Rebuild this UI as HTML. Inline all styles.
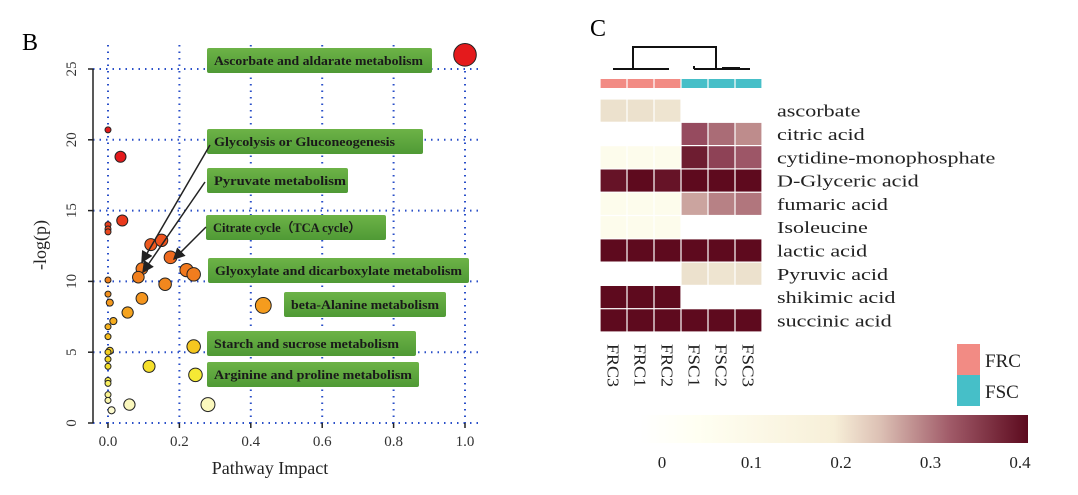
<!DOCTYPE html>
<html><head><meta charset="utf-8"><style>
body{margin:0;background:#fff;width:1078px;height:495px;overflow:hidden}
svg{display:block;font-family:"Liberation Serif",serif}
</style></head><body>
<svg id="s" width="1078" height="495" viewBox="0 0 1078 495">
<defs>
<linearGradient id="gb" x1="0" y1="0" x2="0" y2="1"><stop offset="0" stop-color="#6db347"/><stop offset="1" stop-color="#4f9a35"/></linearGradient>
<linearGradient id="cb" x1="0" y1="0" x2="1" y2="0">
<stop offset="0" stop-color="#ffffff"/><stop offset="0.15" stop-color="#fffff2"/><stop offset="0.5" stop-color="#f7efd8"/><stop offset="0.62" stop-color="#dcc0b4"/><stop offset="0.8" stop-color="#a05a68"/><stop offset="1" stop-color="#5c0a1e"/></linearGradient>
<marker id="ah" markerWidth="8" markerHeight="8" refX="7" refY="4" orient="auto"><path d="M0,0 L8,4 L0,8 Z" fill="#222"/></marker>
</defs>
<text x="22" y="50" font-size="24">B</text>
<text x="590" y="36" font-size="24">C</text>
<g id="left"></g><g id="right"></g>
</svg>
<script>
const NS='http://www.w3.org/2000/svg';
function mk(p,t,a,txt){const e=document.createElementNS(NS,t);for(const k in a)e.setAttribute(k,a[k]);if(txt!==undefined)e.textContent=txt;p.appendChild(e);return e;}
// ---- Scatter data ----
const impact=[1.0,0,0.035,0.04,0,0,0,0.12,0.15,0.175,0.095,0.085,0.22,0.24,0.16,0,0.095,0,0.005,0.435,0.055,0.015,0,0,0.24,0.005,0,0,0,0.115,0.245,0,0,0,0,0.06,0.28,0.01];
const logp=[26,20.7,18.8,14.3,14,13.7,13.5,12.6,12.9,11.7,10.9,10.3,10.8,10.5,9.8,10.1,8.8,9.1,8.5,8.3,7.8,7.2,6.8,6.1,5.4,5.1,5.0,4.5,4.0,4.0,3.4,3.0,2.8,2.0,1.6,1.3,1.3,0.9];
const xTicks=[0,0.2,0.4,0.6,0.8,1.0];
const xTickLabels=["0.0","0.2","0.4","0.6","0.8","1.0"];
const yTicks=[0,5,10,15,20,25];
const X=v=>108+v*357, Y=v=>423-v*14.16;
const L=document.getElementById('left');
function colorFor(p){const t=Math.min(1,p/16);
 const stops=[[1,[255,255,248]],[0.9,[250,246,175]],[0.78,[245,232,45]],[0.65,[245,195,30]],[0.5,[245,160,30]],[0.3,[240,115,30]],[0.15,[235,70,30]],[0,[228,26,28]]];
 const u=1-t;for(let i=0;i<stops.length-1;i++){const a=stops[i],b=stops[i+1];if(u<=a[0]&&u>=b[0]){const f=(a[0]-u)/(a[0]-b[0]);return 'rgb('+a[1].map((c,j)=>Math.round(c+(b[1][j]-c)*f)).join(',')+')';}}return 'rgb(228,26,28)';}
function rFor(x){return x<0.003?3:3.5+x*6+(x>0.02?1.8:0);}
xTicks.forEach((t,i)=>{const l=mk(L,'line',{x1:X(t),x2:X(t),y1:45,y2:423,stroke:'#2a4fc8','stroke-width':2,'stroke-dasharray':'1.5,5'});

const tk=mk(L,'text',{x:X(t),y:446,'font-size':15,'text-anchor':'middle',fill:'#333'},xTickLabels[i]);
});
yTicks.forEach(t=>{const l=mk(L,'line',{x1:93,x2:482,y1:Y(t),y2:Y(t),stroke:'#2a4fc8','stroke-width':2,'stroke-dasharray':'1.5,5'});

mk(L,'line',{x1:88,x2:93,y1:Y(t),y2:Y(t),stroke:'#222','stroke-width':1.5});
const tk=mk(L,'text',{x:0,y:0,'font-size':15,'text-anchor':'middle',fill:'#333',transform:`translate(76,${Y(t)}) rotate(-90)`},String(t));
});
const ax=mk(L,'line',{x1:93,x2:93,y1:Y(25),y2:Y(0),stroke:'#222','stroke-width':1.5});

xTicks.forEach(t=>mk(L,'line',{x1:X(t),x2:X(t),y1:423,y2:428,stroke:'#222','stroke-width':1.5}));
const yt=mk(L,'text',{x:0,y:0,'font-size':18,'text-anchor':'middle',fill:'#222',transform:'translate(46,245) rotate(-90)'},'-log(p)');

const xt=mk(L,'text',{x:270,y:474,'font-size':18,'text-anchor':'middle',fill:'#222'},'Pathway Impact');

// labels
const labX=[207,207,207,206,208,284,207,207],labY=[48,129,168,215,258,292,331,362],labW=[225,216,141,180,261,162,209,212];
const labT=["Ascorbate and aldarate metabolism","Glycolysis or Gluconeogenesis","Pyruvate metabolism","Citrate cycle（TCA cycle）","Glyoxylate and dicarboxylate metabolism","beta-Alanine metabolism","Starch and sucrose metabolism","Arginine and proline metabolism"];
const labTL=[209,181,132,148,247,148,185,198];
labT.forEach((t,i)=>{const r=mk(L,'rect',{x:labX[i],y:labY[i],width:labW[i],height:25,rx:2,fill:'url(#gb)'});

const tx=mk(L,'text',{x:labX[i]+7,y:labY[i]+17,'font-size':12.5,'font-weight':'bold',fill:'#1a1a1a',textLength:labTL[i],lengthAdjust:'spacingAndGlyphs'},t);
});
// points
impact.forEach((v,i)=>{const c=mk(L,'circle',{cx:X(v),cy:Y(logp[i]),r:rFor(v),fill:colorFor(logp[i]),stroke:'#222','stroke-width':1});
});
[[210,145,142,262],[205,182,143,272],[206,227,174,259]].forEach(a=>{const l=mk(L,'line',{x1:a[0],y1:a[1],x2:a[2],y2:a[3],stroke:'#222','stroke-width':1.5,'marker-end':'url(#ah)'});
});
// ---- Heatmap ----
const samples=["FRC3","FRC1","FRC2","FSC1","FSC2","FSC3"];
const groups=["FRC","FRC","FRC","FSC","FSC","FSC"];
const metabolites=["ascorbate","citric acid","cytidine-monophosphate","D-Glyceric acid","fumaric acid","Isoleucine","lactic acid","Pyruvic acid","shikimic acid","succinic acid"];
const values=[[0.2,0.2,0.19,null,null,null],[null,null,null,0.33,0.3,0.27],[0.1,0.1,0.1,0.38,0.34,0.32],[0.39,0.4,0.39,0.4,0.4,0.4],[0.1,0.1,0.1,0.25,0.28,0.29],[0.1,0.1,0.1,null,null,null],[0.4,0.4,0.4,0.4,0.4,0.4],[null,null,null,0.2,0.19,0.2],[0.4,0.4,0.4,null,null,null],[0.4,0.4,0.4,0.4,0.4,0.4]];
const cbTicks=[0,0.1,0.2,0.3,0.4];
const R=document.getElementById('right');
const HX=600,HY=99,CW=27,RH=23.3;
const CX=j=>HX+j*CW, RY=i=>HY+i*RH;
function heat(v){const s=[[0,[255,255,248]],[0.1,[253,252,236]],[0.2,[236,225,205]],[0.27,[190,140,140]],[0.33,[150,75,95]],[0.4,[94,10,30]]];
for(let i=0;i<s.length-1;i++){if(v<=s[i+1][0]){const f=(v-s[i][0])/(s[i+1][0]-s[i][0]);return 'rgb('+s[i][1].map((c,j)=>Math.round(c+(s[i+1][1][j]-c)*f)).join(',')+')';}}return 'rgb(94,10,30)';}
const gcol={FRC:'#f28b84',FSC:'#46bfc8'};
samples.forEach((s,j)=>{const a=mk(R,'rect',{x:CX(j)+0.6,y:79,width:CW-1.2,height:9,fill:gcol[groups[j]]});

const t=mk(R,'text',{x:0,y:0,'font-size':17,fill:'#222',textLength:43,lengthAdjust:'spacingAndGlyphs',transform:`translate(${CX(j)+CW/2-6},344) rotate(90)`},s);
});
metabolites.forEach((m,i)=>{values[i].forEach((v,j)=>{if(v===null)return;const r=mk(R,'rect',{x:CX(j)+0.6,y:RY(i)+0.6,width:CW-1.2,height:RH-1.2,fill:heat(v)});
});
const t=mk(R,'text',{x:0,y:0,'font-size':17,fill:'#222',transform:`translate(777,${RY(i)+RH/2+6}) scale(1.3,1)`},m);
});
// dendrogram
const dg=mk(R,'path',{d:'M613,69 H669 M633,69 V47 H716 V69 M694,69 H750 M694,69 V66 M722,68 H740',fill:'none',stroke:'#111','stroke-width':2});

// legend
[['FRC',344],['FSC',375]].forEach(g=>{const r=mk(R,'rect',{x:957,y:g[1],width:23,height:31,fill:gcol[g[0]]});

const t=mk(R,'text',{x:985,y:g[1]+23,'font-size':19,fill:'#222'},g[0]);
});
const cb=mk(R,'rect',{x:640,y:415,width:388,height:28,fill:'url(#cb)'});

const CB=v=>662+v*895;
cbTicks.forEach(v=>{const t=mk(R,'text',{x:CB(v),y:468,'font-size':17,'text-anchor':'middle',fill:'#222'},String(v));
});
</script>
</body></html>
